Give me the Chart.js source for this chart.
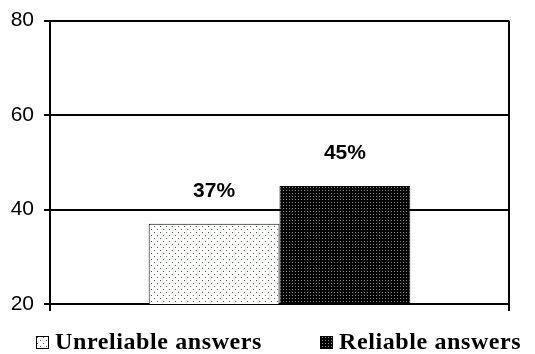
<!DOCTYPE html>
<html>
<head>
<meta charset="utf-8">
<script src="https://cdn.jsdelivr.net/npm/chart.js@4/dist/chart.umd.min.js"></script>
<style>
  html, body { margin: 0; padding: 0; background: #fff; }
  #wrap { width: 535px; height: 354px; }
</style>
</head>
<body>
<div id="wrap"><canvas id="c" width="535" height="354"></canvas></div>
<script>
// ── Data ──────────────────────────────────────────────────────────────────────
const categories  = [''];
const seriesNames = ['Unreliable answers', 'Reliable answers'];
const unreliable  = [37];
const reliable    = [45];
const yTicks      = [20, 40, 60, 80];

// ── Patterns ──────────────────────────────────────────────────────────────────
function dotPattern(bg, dot, size, dots) {
  const p = document.createElement('canvas');
  p.width = size; p.height = size;
  const g = p.getContext('2d');
  g.fillStyle = bg;
  g.fillRect(0, 0, size, size);
  g.fillStyle = dot;
  dots.forEach(([x, y]) => g.fillRect(x, y, 1, 1));
  return g.createPattern(p, 'repeat');
}

const ctx = document.getElementById('c').getContext('2d');
const lightFill = dotPattern('#ffffff', '#3d6b3d', 6, [[1, 1], [4, 4]]);
const darkFill  = dotPattern('#000000', '#8a8a8a', 3, [[1, 1]]);

// right side of the plot box
const frame = {
  id: 'frame',
  afterDraw(chart) {
    const { ctx, chartArea: a } = chart;
    ctx.save();
    ctx.strokeStyle = '#000';
    ctx.lineWidth = 2;
    ctx.beginPath();
    ctx.moveTo(a.right, a.top);
    ctx.lineTo(a.right, a.bottom);
    ctx.stroke();
    ctx.restore();
  },
};

// percent labels above bars
const valueLabels = {
  id: 'valueLabels',
  afterDatasetsDraw(chart) {
    const { ctx } = chart;
    ctx.save();
    ctx.font = 'bold 21px "Liberation Sans", Arial, sans-serif';
    ctx.fillStyle = '#000';
    ctx.textAlign = 'center';
    ctx.textBaseline = 'alphabetic';
    chart.data.datasets.forEach((ds, i) => {
      chart.getDatasetMeta(i).data.forEach((bar, j) => {
        ctx.fillText(ds.data[j] + '%', bar.x, bar.y - 27);
      });
    });
    ctx.restore();
  },
};

// legend row under the plot (serif, spaced out like the original)
const legendRow = {
  id: 'legendRow',
  afterDraw(chart) {
    const { ctx } = chart;
    const base = 349, box = 13, gapText = 6, gapItem = 58;
    let x = 36;
    ctx.save();
    ctx.font = 'bold 24px "Liberation Serif", "Times New Roman", serif';
    ctx.letterSpacing = '0.6px';
    ctx.textBaseline = 'alphabetic';
    chart.data.datasets.forEach((ds) => {
      ctx.fillStyle = ds.backgroundColor;
      ctx.fillRect(x, base - box, box, box);
      ctx.strokeStyle = '#000';
      ctx.lineWidth = 1;
      ctx.strokeRect(x + 0.5, base - box + 0.5, box - 1, box - 1);
      x += box + gapText;
      ctx.fillStyle = '#000';
      ctx.fillText(ds.label, x, base);
      x += ctx.measureText(ds.label).width + gapItem;
    });
    ctx.restore();
  },
};

new Chart(ctx, {
  type: 'bar',
  data: {
    labels: categories,
    datasets: [
      {
        label:           seriesNames[0],
        data:            unreliable,
        backgroundColor: lightFill,
        borderColor:     '#000',
        borderWidth:     1,
      },
      {
        label:           seriesNames[1],
        data:            reliable,
        backgroundColor: darkFill,
        borderColor:     '#000',
        borderWidth:     1,
      },
    ],
  },
  options: {
    responsive: false,
    animation:  false,
    layout: { padding: { left: 0, right: 26, top: 20, bottom: 43 } },
    datasets: { bar: { barPercentage: 1, categoryPercentage: 0.57 } },
    plugins: {
      tooltip: { enabled: false },
      legend:  { display: false },
    },
    scales: {
      x: {
        grid:   { offset: true, drawOnChartArea: false, color: '#000', lineWidth: 2, tickLength: 7 },
        border: { color: '#000', width: 2 },
        ticks:  { display: false },
      },
      y: {
        min: yTicks[0],
        max: yTicks[yTicks.length - 1],
        afterBuildTicks: (s) => { s.ticks = yTicks.map((v) => ({ value: v })); },
        afterFit: (s) => { s.width = 50; },
        grid:   { color: '#000', lineWidth: 2, tickLength: 6 },
        border: { color: '#000', width: 2 },
        ticks:  {
          color: '#000',
          padding: 10,
          font: { family: '"Liberation Sans", Arial, sans-serif', size: 21, lineHeight: 1 },
        },
      },
    },
  },
  plugins: [frame, valueLabels, legendRow],
});
</script>
</body>
</html>
